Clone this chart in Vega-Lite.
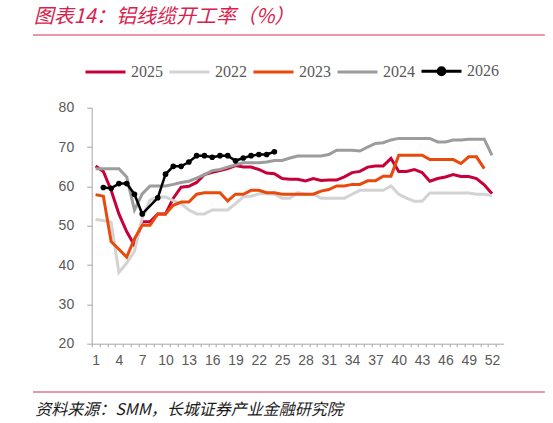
{
"$schema": "https://vega.github.io/schema/vega-lite/v6.json",
"width": 412, "height": 236,
"autosize": {"type": "none"},
"padding": {"left": 91.7, "top": 107.7, "right": 49.3, "bottom": 79.3},
"config": {"view": {"stroke": null}, "font": "Liberation Sans"},
"title": {"text": "图表14：铝线缆开工率（%）", "anchor": "start", "frame": "group", "offset": 7, "dx": -58, "font": "Noto Sans CJK SC", "fontSize": 20, "fontStyle": "italic", "fontWeight": "normal", "color": "#D9214C"},
"data": {"values": [
{"week":1,"year":"2025","value":65.2},{"week":2,"year":"2025","value":63.8},{"week":3,"year":"2025","value":59.0},{"week":4,"year":"2025","value":53.0},{"week":5,"year":"2025","value":48.5},{"week":6,"year":"2025","value":45.0},{"week":7,"year":"2025","value":51.0},{"week":8,"year":"2025","value":51.0},{"week":9,"year":"2025","value":53.0},{"week":10,"year":"2025","value":53.0},{"week":11,"year":"2025","value":57.0},{"week":12,"year":"2025","value":59.8},{"week":13,"year":"2025","value":60.0},{"week":14,"year":"2025","value":61.0},{"week":15,"year":"2025","value":63.0},{"week":16,"year":"2025","value":63.6},{"week":17,"year":"2025","value":64.0},{"week":18,"year":"2025","value":64.5},{"week":19,"year":"2025","value":65.3},{"week":20,"year":"2025","value":64.9},{"week":21,"year":"2025","value":64.9},{"week":22,"year":"2025","value":64.3},{"week":23,"year":"2025","value":63.4},{"week":24,"year":"2025","value":63.2},{"week":25,"year":"2025","value":62.0},{"week":26,"year":"2025","value":61.8},{"week":27,"year":"2025","value":61.8},{"week":28,"year":"2025","value":61.4},{"week":29,"year":"2025","value":62.0},{"week":30,"year":"2025","value":61.5},{"week":31,"year":"2025","value":61.6},{"week":32,"year":"2025","value":61.6},{"week":33,"year":"2025","value":62.4},{"week":34,"year":"2025","value":63.5},{"week":35,"year":"2025","value":63.8},{"week":36,"year":"2025","value":64.9},{"week":37,"year":"2025","value":65.2},{"week":38,"year":"2025","value":65.2},{"week":39,"year":"2025","value":67.1},{"week":40,"year":"2025","value":63.8},{"week":41,"year":"2025","value":63.8},{"week":42,"year":"2025","value":64.3},{"week":43,"year":"2025","value":63.5},{"week":44,"year":"2025","value":61.3},{"week":45,"year":"2025","value":62.0},{"week":46,"year":"2025","value":62.4},{"week":47,"year":"2025","value":63.0},{"week":48,"year":"2025","value":62.5},{"week":49,"year":"2025","value":62.5},{"week":50,"year":"2025","value":62.0},{"week":51,"year":"2025","value":60.4},{"week":52,"year":"2025","value":58.1},
{"week":1,"year":"2022","value":51.6},{"week":2,"year":"2022","value":51.3},{"week":3,"year":"2022","value":50.9},{"week":4,"year":"2022","value":38.1},{"week":5,"year":"2022","value":40.5},{"week":6,"year":"2022","value":43.5},{"week":7,"year":"2022","value":52.0},{"week":8,"year":"2022","value":56.5},{"week":9,"year":"2022","value":57.3},{"week":10,"year":"2022","value":57.3},{"week":11,"year":"2022","value":56.4},{"week":12,"year":"2022","value":55.6},{"week":13,"year":"2022","value":54.0},{"week":14,"year":"2022","value":53.0},{"week":15,"year":"2022","value":53.0},{"week":16,"year":"2022","value":54.0},{"week":17,"year":"2022","value":54.0},{"week":18,"year":"2022","value":54.0},{"week":19,"year":"2022","value":55.6},{"week":20,"year":"2022","value":57.3},{"week":21,"year":"2022","value":57.5},{"week":22,"year":"2022","value":58.1},{"week":23,"year":"2022","value":58.1},{"week":24,"year":"2022","value":58.0},{"week":25,"year":"2022","value":57.0},{"week":26,"year":"2022","value":57.0},{"week":27,"year":"2022","value":58.4},{"week":28,"year":"2022","value":58.0},{"week":29,"year":"2022","value":58.0},{"week":30,"year":"2022","value":57.0},{"week":31,"year":"2022","value":57.0},{"week":32,"year":"2022","value":57.0},{"week":33,"year":"2022","value":57.0},{"week":34,"year":"2022","value":58.0},{"week":35,"year":"2022","value":59.0},{"week":36,"year":"2022","value":59.0},{"week":37,"year":"2022","value":59.0},{"week":38,"year":"2022","value":59.0},{"week":39,"year":"2022","value":60.1},{"week":40,"year":"2022","value":58.0},{"week":41,"year":"2022","value":57.0},{"week":42,"year":"2022","value":56.2},{"week":43,"year":"2022","value":56.2},{"week":44,"year":"2022","value":58.3},{"week":45,"year":"2022","value":58.3},{"week":46,"year":"2022","value":58.3},{"week":47,"year":"2022","value":58.3},{"week":48,"year":"2022","value":58.3},{"week":49,"year":"2022","value":58.3},{"week":50,"year":"2022","value":58.0},{"week":51,"year":"2022","value":58.0},{"week":52,"year":"2022","value":57.7},
{"week":1,"year":"2023","value":57.9},{"week":2,"year":"2023","value":57.5},{"week":3,"year":"2023","value":46.0},{"week":4,"year":"2023","value":44.0},{"week":5,"year":"2023","value":42.0},{"week":6,"year":"2023","value":46.7},{"week":7,"year":"2023","value":50.1},{"week":8,"year":"2023","value":50.1},{"week":9,"year":"2023","value":53.0},{"week":10,"year":"2023","value":53.0},{"week":11,"year":"2023","value":55.2},{"week":12,"year":"2023","value":56.0},{"week":13,"year":"2023","value":56.0},{"week":14,"year":"2023","value":58.0},{"week":15,"year":"2023","value":58.4},{"week":16,"year":"2023","value":58.4},{"week":17,"year":"2023","value":58.4},{"week":18,"year":"2023","value":56.3},{"week":19,"year":"2023","value":58.0},{"week":20,"year":"2023","value":58.0},{"week":21,"year":"2023","value":59.0},{"week":22,"year":"2023","value":59.0},{"week":23,"year":"2023","value":58.4},{"week":24,"year":"2023","value":58.4},{"week":25,"year":"2023","value":58.0},{"week":26,"year":"2023","value":58.0},{"week":27,"year":"2023","value":58.0},{"week":28,"year":"2023","value":58.0},{"week":29,"year":"2023","value":58.0},{"week":30,"year":"2023","value":58.8},{"week":31,"year":"2023","value":59.2},{"week":32,"year":"2023","value":60.1},{"week":33,"year":"2023","value":60.1},{"week":34,"year":"2023","value":60.5},{"week":35,"year":"2023","value":60.5},{"week":36,"year":"2023","value":61.4},{"week":37,"year":"2023","value":61.4},{"week":38,"year":"2023","value":62.6},{"week":39,"year":"2023","value":62.6},{"week":40,"year":"2023","value":67.9},{"week":41,"year":"2023","value":67.9},{"week":42,"year":"2023","value":67.9},{"week":43,"year":"2023","value":67.9},{"week":44,"year":"2023","value":66.8},{"week":45,"year":"2023","value":66.8},{"week":46,"year":"2023","value":66.8},{"week":47,"year":"2023","value":66.8},{"week":48,"year":"2023","value":65.8},{"week":49,"year":"2023","value":67.5},{"week":50,"year":"2023","value":67.5},{"week":51,"year":"2023","value":64.5},
{"week":1,"year":"2024","value":64.5},{"week":2,"year":"2024","value":64.5},{"week":3,"year":"2024","value":64.5},{"week":4,"year":"2024","value":64.5},{"week":5,"year":"2024","value":62.4},{"week":6,"year":"2024","value":54.0},{"week":7,"year":"2024","value":58.1},{"week":8,"year":"2024","value":60.1},{"week":9,"year":"2024","value":60.1},{"week":10,"year":"2024","value":60.1},{"week":11,"year":"2024","value":60.5},{"week":12,"year":"2024","value":61.0},{"week":13,"year":"2024","value":61.3},{"week":14,"year":"2024","value":62.1},{"week":15,"year":"2024","value":63.0},{"week":16,"year":"2024","value":64.0},{"week":17,"year":"2024","value":64.3},{"week":18,"year":"2024","value":64.9},{"week":19,"year":"2024","value":65.5},{"week":20,"year":"2024","value":66.0},{"week":21,"year":"2024","value":66.0},{"week":22,"year":"2024","value":66.0},{"week":23,"year":"2024","value":66.2},{"week":24,"year":"2024","value":66.6},{"week":25,"year":"2024","value":66.6},{"week":26,"year":"2024","value":67.2},{"week":27,"year":"2024","value":67.7},{"week":28,"year":"2024","value":67.7},{"week":29,"year":"2024","value":67.7},{"week":30,"year":"2024","value":67.7},{"week":31,"year":"2024","value":68.1},{"week":32,"year":"2024","value":69.2},{"week":33,"year":"2024","value":69.2},{"week":34,"year":"2024","value":69.2},{"week":35,"year":"2024","value":69.0},{"week":36,"year":"2024","value":70.0},{"week":37,"year":"2024","value":70.9},{"week":38,"year":"2024","value":71.1},{"week":39,"year":"2024","value":71.8},{"week":40,"year":"2024","value":72.2},{"week":41,"year":"2024","value":72.2},{"week":42,"year":"2024","value":72.2},{"week":43,"year":"2024","value":72.2},{"week":44,"year":"2024","value":72.2},{"week":45,"year":"2024","value":71.3},{"week":46,"year":"2024","value":71.3},{"week":47,"year":"2024","value":71.8},{"week":48,"year":"2024","value":71.8},{"week":49,"year":"2024","value":72.0},{"week":50,"year":"2024","value":72.0},{"week":51,"year":"2024","value":72.0},{"week":52,"year":"2024","value":67.9},
{"week":2,"year":"2026","value":59.7},{"week":3,"year":"2026","value":59.5},{"week":4,"year":"2026","value":60.7},{"week":5,"year":"2026","value":60.7},{"week":6,"year":"2026","value":58.0},{"week":7,"year":"2026","value":53.0},{"week":9,"year":"2026","value":57.1},{"week":10,"year":"2026","value":63.1},{"week":11,"year":"2026","value":65.1},{"week":12,"year":"2026","value":65.1},{"week":13,"year":"2026","value":66.2},{"week":14,"year":"2026","value":67.8},{"week":15,"year":"2026","value":67.8},{"week":16,"year":"2026","value":67.4},{"week":17,"year":"2026","value":67.8},{"week":18,"year":"2026","value":67.8},{"week":19,"year":"2026","value":66.5},{"week":20,"year":"2026","value":67.2},{"week":21,"year":"2026","value":67.8},{"week":22,"year":"2026","value":68.1},{"week":23,"year":"2026","value":68.1},{"week":24,"year":"2026","value":68.8}
]},
"layer": [
{"transform": [{"filter": "datum.year !== '2026'"}],
 "mark": {"type": "line", "strokeWidth": 3},
 "encoding": {
  "x": {"field": "week", "type": "quantitative", "scale": {"domain": [0.5, 53.5], "nice": false, "zero": false},
   "axis": {"values": [1,2,3,4,5,6,7,8,9,10,11,12,13,14,15,16,17,18,19,20,21,22,23,24,25,26,27,28,29,30,31,32,33,34,35,36,37,38,39,40,41,42,43,44,45,46,47,48,49,50,51,52,53,54],
    "tickOffset": -3.887, "labelOffset": 3.887,
    "labelExpr": "(datum.value - 1) % 3 === 0 && datum.value <= 52 ? datum.label : ''",
    "tickSize": 3, "tickColor": "#A6A6A6", "domainColor": "#A6A6A6", "labelColor": "#595959", "labelFontSize": 14, "labelFont": "Liberation Sans", "labelPadding": 7, "grid": false, "labelFlush": false, "labelOverlap": false, "labelBound": false,
    "title": "资料来源：SMM，长城证券产业金融研究院", "titleX": -57, "titleY": 66, "titleAlign": "left", "titleAnchor": "start", "titleBaseline": "middle", "titleFont": "Noto Sans CJK SC", "titleFontSize": 16, "titleFontStyle": "italic", "titleFontWeight": "normal", "titleColor": "#1a1a1a"}},
  "y": {"field": "value", "type": "quantitative", "scale": {"domain": [20, 80], "nice": false, "zero": false},
   "axis": {"values": [20,30,40,50,60,70,80], "tickSize": 5, "tickColor": "#A6A6A6", "domainColor": "#A6A6A6", "labelColor": "#595959", "labelFontSize": 14, "labelFont": "Liberation Sans", "labelPadding": 13, "grid": false, "title": null}},
  "color": {"field": "year", "type": "nominal",
   "scale": {"domain": ["2025","2022","2023","2024","2026"], "range": ["#C8003A","#D3D3D3","#E84A0C","#9C9C9C","#000000"]},
   "legend": {"orient": "none", "legendX": -7.7, "legendY": -58, "direction": "horizontal", "title": null, "padding": 0,
    "symbolType": "stroke", "symbolSize": 1600, "symbolStrokeWidth": 3, "labelFont": "Liberation Serif", "labelFontSize": 16, "labelColor": "#595959", "labelOffset": 4, "columnPadding": 0,
    "encode": {"symbols": {"update": {
      "shape": {"signal": "datum.value === '2026' ? 'M-1,0H1M0.17,0A0.17,0.17 0 1,1 -0.17,0A0.17,0.17 0 1,1 0.17,0' : 'stroke'"},
      "fill": {"signal": "datum.value === '2026' ? '#000000' : 'transparent'"}}}}}}
 }},
{"transform": [{"filter": "datum.year === '2026'"}],
 "mark": {"type": "line", "strokeWidth": 2.5},
 "encoding": {
  "x": {"field": "week", "type": "quantitative", "axis": {"values": [1,2,3,4,5,6,7,8,9,10,11,12,13,14,15,16,17,18,19,20,21,22,23,24,25,26,27,28,29,30,31,32,33,34,35,36,37,38,39,40,41,42,43,44,45,46,47,48,49,50,51,52,53,54],
    "tickOffset": -3.887, "labelOffset": 3.887,
    "labelExpr": "(datum.value - 1) % 3 === 0 && datum.value <= 52 ? datum.label : ''",
    "tickSize": 3, "tickColor": "#A6A6A6", "domainColor": "#A6A6A6", "labelColor": "#595959", "labelFontSize": 14, "labelFont": "Liberation Sans", "labelPadding": 7, "grid": false, "labelFlush": false, "labelOverlap": false, "labelBound": false,
    "title": "资料来源：SMM，长城证券产业金融研究院", "titleX": -57, "titleY": 66, "titleAlign": "left", "titleAnchor": "start", "titleBaseline": "middle", "titleFont": "Noto Sans CJK SC", "titleFontSize": 16, "titleFontStyle": "italic", "titleFontWeight": "normal", "titleColor": "#1a1a1a"}},
  "y": {"field": "value", "type": "quantitative", "axis": {"values": [20,30,40,50,60,70,80], "tickSize": 5, "tickColor": "#A6A6A6", "domainColor": "#A6A6A6", "labelColor": "#595959", "labelFontSize": 14, "labelFont": "Liberation Sans", "labelPadding": 13, "grid": false, "title": null}},
  "color": {"field": "year", "type": "nominal", "legend": null}}},
{"transform": [{"filter": "datum.year === '2026'"}],
 "mark": {"type": "circle", "size": 32, "opacity": 1},
 "encoding": {
  "x": {"field": "week", "type": "quantitative", "axis": {"values": [1,2,3,4,5,6,7,8,9,10,11,12,13,14,15,16,17,18,19,20,21,22,23,24,25,26,27,28,29,30,31,32,33,34,35,36,37,38,39,40,41,42,43,44,45,46,47,48,49,50,51,52,53,54],
    "tickOffset": -3.887, "labelOffset": 3.887,
    "labelExpr": "(datum.value - 1) % 3 === 0 && datum.value <= 52 ? datum.label : ''",
    "tickSize": 3, "tickColor": "#A6A6A6", "domainColor": "#A6A6A6", "labelColor": "#595959", "labelFontSize": 14, "labelFont": "Liberation Sans", "labelPadding": 7, "grid": false, "labelFlush": false, "labelOverlap": false, "labelBound": false,
    "title": "资料来源：SMM，长城证券产业金融研究院", "titleX": -57, "titleY": 66, "titleAlign": "left", "titleAnchor": "start", "titleBaseline": "middle", "titleFont": "Noto Sans CJK SC", "titleFontSize": 16, "titleFontStyle": "italic", "titleFontWeight": "normal", "titleColor": "#1a1a1a"}},
  "y": {"field": "value", "type": "quantitative", "axis": {"values": [20,30,40,50,60,70,80], "tickSize": 5, "tickColor": "#A6A6A6", "domainColor": "#A6A6A6", "labelColor": "#595959", "labelFontSize": 14, "labelFont": "Liberation Sans", "labelPadding": 13, "grid": false, "title": null}},
  "color": {"field": "year", "type": "nominal", "legend": null}}},
{"data": {"values": [{}]},
 "mark": {"type": "rule", "color": "#E3758A", "strokeWidth": 1.5},
 "encoding": {
  "x": {"datum": -7.05, "type": "quantitative", "axis": {"values": [1,2,3,4,5,6,7,8,9,10,11,12,13,14,15,16,17,18,19,20,21,22,23,24,25,26,27,28,29,30,31,32,33,34,35,36,37,38,39,40,41,42,43,44,45,46,47,48,49,50,51,52,53,54],
    "tickOffset": -3.887, "labelOffset": 3.887,
    "labelExpr": "(datum.value - 1) % 3 === 0 && datum.value <= 52 ? datum.label : ''",
    "tickSize": 3, "tickColor": "#A6A6A6", "domainColor": "#A6A6A6", "labelColor": "#595959", "labelFontSize": 14, "labelFont": "Liberation Sans", "labelPadding": 7, "grid": false, "labelFlush": false, "labelOverlap": false, "labelBound": false,
    "title": "资料来源：SMM，长城证券产业金融研究院", "titleX": -57, "titleY": 66, "titleAlign": "left", "titleAnchor": "start", "titleBaseline": "middle", "titleFont": "Noto Sans CJK SC", "titleFontSize": 16, "titleFontStyle": "italic", "titleFontWeight": "normal", "titleColor": "#1a1a1a"}},
  "x2": {"datum": 58.8},
  "y": {"datum": 98.48, "type": "quantitative", "axis": {"values": [20,30,40,50,60,70,80], "tickSize": 5, "tickColor": "#A6A6A6", "domainColor": "#A6A6A6", "labelColor": "#595959", "labelFontSize": 14, "labelFont": "Liberation Sans", "labelPadding": 13, "grid": false, "title": null}}}},
{"data": {"values": [{}]},
 "mark": {"type": "rule", "color": "#E3758A", "strokeWidth": 1.5},
 "encoding": {
  "x": {"datum": -7.05, "type": "quantitative", "axis": {"values": [1,2,3,4,5,6,7,8,9,10,11,12,13,14,15,16,17,18,19,20,21,22,23,24,25,26,27,28,29,30,31,32,33,34,35,36,37,38,39,40,41,42,43,44,45,46,47,48,49,50,51,52,53,54],
    "tickOffset": -3.887, "labelOffset": 3.887,
    "labelExpr": "(datum.value - 1) % 3 === 0 && datum.value <= 52 ? datum.label : ''",
    "tickSize": 3, "tickColor": "#A6A6A6", "domainColor": "#A6A6A6", "labelColor": "#595959", "labelFontSize": 14, "labelFont": "Liberation Sans", "labelPadding": 7, "grid": false, "labelFlush": false, "labelOverlap": false, "labelBound": false,
    "title": "资料来源：SMM，长城证券产业金融研究院", "titleX": -57, "titleY": 66, "titleAlign": "left", "titleAnchor": "start", "titleBaseline": "middle", "titleFont": "Noto Sans CJK SC", "titleFontSize": 16, "titleFontStyle": "italic", "titleFontWeight": "normal", "titleColor": "#1a1a1a"}},
  "x2": {"datum": 58.8},
  "y": {"datum": 7.72, "type": "quantitative", "axis": {"values": [20,30,40,50,60,70,80], "tickSize": 5, "tickColor": "#A6A6A6", "domainColor": "#A6A6A6", "labelColor": "#595959", "labelFontSize": 14, "labelFont": "Liberation Sans", "labelPadding": 13, "grid": false, "title": null}}}}
]
}
